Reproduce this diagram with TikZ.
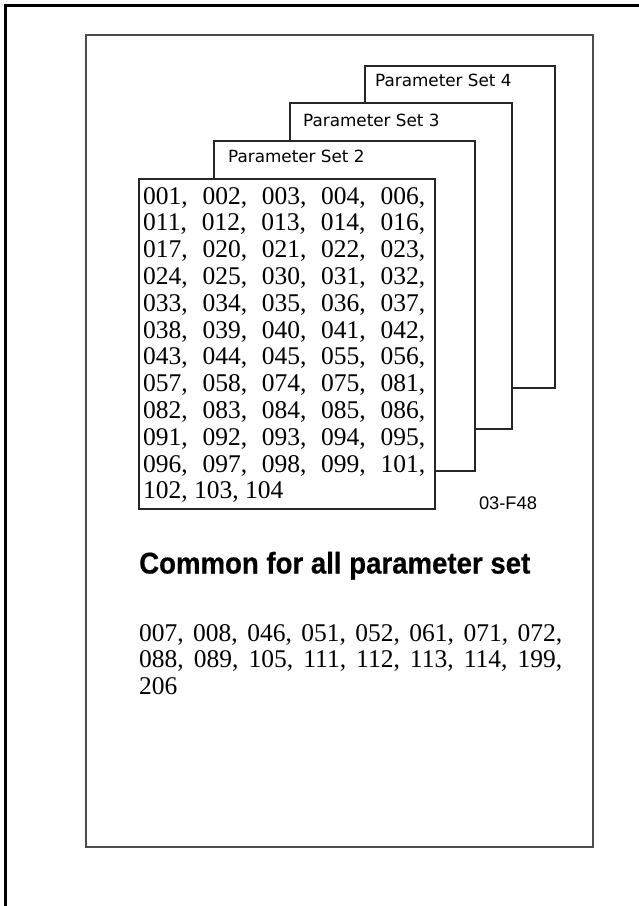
\documentclass[tikz,border=0pt]{standalone}
\usepackage{fontspec}
\setmainfont{Liberation Serif}
\newfontfamily\labelfont{DejaVu Sans}
\newfontfamily\headfont[FakeStretch=0.92,FakeBold=0.6]{Liberation Sans}
\newfontfamily\codefont{Liberation Sans}
\begin{document}
\begin{tikzpicture}[x=1pt,y=-1pt,
  pagebox/.style={draw=black!70,line width=1.5pt},
  setbox/.style={draw=black!85,line width=1.2pt,fill=white},
  setlabel/.style={font=\labelfont\fontsize{16.8}{18}\selectfont,inner sep=0pt,anchor=base west},
  numrow/.style={font=\fontsize{25.5}{26.8}\selectfont,inner sep=0pt,anchor=base west},
  headtext/.style={font=\headfont\bfseries\fontsize{30}{32}\selectfont,inner sep=0pt,anchor=base west},
  codetext/.style={font=\codefont\fontsize{18.3}{20}\selectfont,inner sep=0pt,anchor=base}]
\useasboundingbox (0,0) rectangle (639,906);
% outer frame (cropped)
\draw[line width=2.5pt,black] (5.5,906) -- (5.5,5.5) -- (639,5.5);
% page
\draw[pagebox] (86,35) rectangle (593,847);
% stacked parameter sets
\draw[setbox] (365,66) rectangle (555,388);
\node[setlabel] (l4) at (375,86) {Parameter Set 4};
\draw[setbox] (290,103) rectangle (512,429);
\node[setlabel] (l3) at (303,126) {Parameter Set 3};
\draw[setbox] (214,141) rectangle (475,471);
\node[setlabel] (l2) at (228,162) {Parameter Set 2};
\draw[setbox] (139,179) rectangle (435,509);
\foreach \t [count=\i] in {{001, 002, 003, 004, 006,},{011, 012, 013, 014, 016,},{017, 020, 021, 022, 023,},{024, 025, 030, 031, 032,},{033, 034, 035, 036, 037,},{038, 039, 040, 041, 042,},{043, 044, 045, 055, 056,},{057, 058, 074, 075, 081,},{082, 083, 084, 085, 086,},{091, 092, 093, 094, 095,},{096, 097, 098, 099, 101,}}
  \node[numrow] (row\i) at (143,{204+26.8*(\i-1)}) {\makebox[282pt][s]{\t}};
\node[numrow] (row12) at (143,{204+26.8*11}) {102, 103, 104};
\node[codetext] (code) at (508,509.5) {03-F48};
% common
\node[headtext] (head) at (139,573.5) {Common for all parameter set};
\node[numrow] (c1) at (139,641) {\makebox[423pt][s]{007, 008, 046, 051, 052, 061, 071, 072,}};
\node[numrow] (c2) at (139,667.5) {\makebox[423pt][s]{088, 089, 105, 111, 112, 113, 114, 199,}};
\node[numrow] (c3) at (139,694) {206};
\end{tikzpicture}
\end{document}
